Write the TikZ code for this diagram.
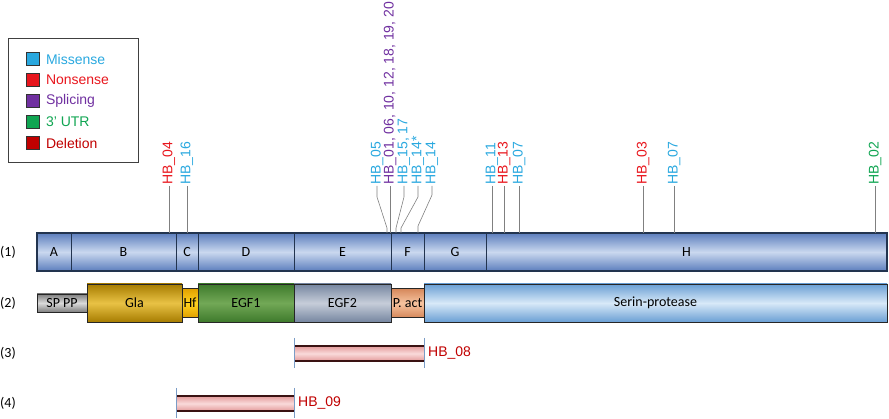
\documentclass[tikz,border=0pt]{standalone}
\usepackage{fontspec}
\setmainfont{Liberation Sans}
\newfontfamily\calibri{Carlito}
\usetikzlibrary{positioning}
\definecolor{miss}{HTML}{29A8DF}
\definecolor{nons}{HTML}{E8161D}
\definecolor{splic}{HTML}{7030A0}
\definecolor{utr}{HTML}{10A552}
\definecolor{dele}{HTML}{C00000}
\definecolor{exonedge}{HTML}{5C7EBD}
\definecolor{exonmid}{HTML}{CAD8EF}
\definecolor{exonline}{HTML}{22344F}
\definecolor{pinline}{HTML}{808080}
\definecolor{spedge}{HTML}{7F7F7F}
\definecolor{spmid}{HTML}{DADADA}
\definecolor{glaedge}{HTML}{A67C00}
\definecolor{glamid}{HTML}{E9C245}
\definecolor{hfedge}{HTML}{E0A000}
\definecolor{hfmid}{HTML}{FFD21F}
\definecolor{egfaedge}{HTML}{3E7A2C}
\definecolor{egfamid}{HTML}{72A856}
\definecolor{egfbedge}{HTML}{7686A0}
\definecolor{egfbmid}{HTML}{C6CDD9}
\definecolor{pactedge}{HTML}{D5875A}
\definecolor{pactmid}{HTML}{F7C4A0}
\definecolor{seredge}{HTML}{6A9FD4}
\definecolor{sermid}{HTML}{D8E9F8}
\definecolor{deledge}{HTML}{E39A9A}
\definecolor{delmid}{HTML}{FADADA}
\definecolor{delline}{HTML}{3A1212}
\definecolor{tickline}{HTML}{7A9CC6}

\begin{document}
\begin{tikzpicture}[x=1pt, y=-1pt,
      exon/.style={draw=exonline, line width=0.6pt, top color=exonedge, bottom color=exonedge,
                   middle color=exonmid, minimum height=38pt, inner sep=0pt, outer sep=0pt,
                   font=\calibri\fontsize{14}{14}\selectfont},
      domain/.style 2 args={draw=black!85, line width=0.6pt, top color=#1, bottom color=#1,
                   middle color=#2, minimum height=38pt, inner sep=0pt, outer sep=0pt,
                   font=\calibri\fontsize{14}{14}\selectfont},
      delbar/.style={top color=deledge, bottom color=deledge, middle color=delmid,
                   minimum height=15pt, inner sep=0pt, outer sep=0pt},
      dline/.style={draw=delline, line width=2pt},
      endtick/.style={draw=tickline, line width=0.7pt},
      mut/.style={rotate=90, anchor=west, inner sep=1pt, text=#1, font=\fontsize{14}{14}\selectfont},
      pin/.style={draw=pinline, line width=0.6pt},
      keybox/.style={draw=black!80, line width=0.6pt, fill=#1, minimum size=13pt, inner sep=0pt},
      rowlab/.style={font=\calibri\fontsize{14}{14}\selectfont, inner sep=0pt},
      mutlab/.style={text=dele, inner sep=1pt, font=\fontsize{14}{14}\selectfont}]
  \useasboundingbox (0,0) rectangle (889,419);

  % legend
  \node[draw=black!75, line width=1.2pt, minimum width=130pt, minimum height=124pt,
        anchor=north west] (legend) at (8,38) {};
  \foreach \txt/\col [count=\i] in {Missense/miss, Nonsense/nons, Splicing/splic, 3’ UTR/utr, Deletion/dele} {
    \node[keybox=\col] (k\i) at (33,38+21*\i) {};
    \node[right=6pt of k\i, inner sep=0pt, text=\col, font=\fontsize{14}{14}\selectfont] (t\i) {\txt};
  }

  % (1) exons
  \node[rowlab] (r1) at (8,252) {(1)};
  \node[exon, minimum width=34pt, anchor=west] (A) at (37,252) {A};
  \node[exon, minimum width=105pt, right=0pt of A] (B) {B};
  \node[exon, minimum width=22pt, right=0pt of B] (C) {C};
  \node[exon, minimum width=96pt, right=0pt of C] (D) {D};
  \node[exon, minimum width=97pt, right=0pt of D] (E) {E};
  \node[exon, minimum width=33pt, right=0pt of E] (F) {F};
  \node[exon, minimum width=62pt, right=0pt of F] (G) {G};
  \node[exon, minimum width=401pt, right=0pt of G] (H) {H};
  \draw[exonline, line width=1.2pt] (A.north west) rectangle (H.south east);

  % (2) protein domains
  \node[rowlab] (r2) at (8,303) {(2)};
  \node[domain={spedge}{spmid}, minimum width=50pt, minimum height=18pt, anchor=west] (sp) at (37,303) {SP PP};
  \node[domain={glaedge}{glamid}, minimum width=95pt, right=0pt of sp] (gla) {Gla};
  \node[domain={hfedge}{hfmid}, minimum width=16pt, minimum height=29pt, right=0pt of gla] (hf) {Hf};
  \node[domain={egfaedge}{egfamid}, minimum width=96pt, right=0pt of hf] (egf1) {EGF1};
  \node[domain={egfbedge}{egfbmid}, minimum width=97pt, right=0pt of egf1] (egf2) {EGF2};
  \node[domain={pactedge}{pactmid}, minimum width=33pt, minimum height=29pt, right=0pt of egf2] (pact) {P. act};
  \node[domain={seredge}{sermid}, minimum width=463pt, right=0pt of pact] (serin) {Serin-protease};

  % (3) and (4) deletions
  \node[rowlab] (r3) at (8,353) {(3)};
  \node[delbar, minimum width=130pt, anchor=west] (d08) at (294,353.5) {};
  \draw[dline] (d08.north west) -- (d08.north east);
  \draw[dline] (d08.south west) -- (d08.south east);
  \draw[endtick] ([yshift=8pt]d08.north west) -- ([yshift=-7pt]d08.south west);
  \draw[endtick] ([yshift=8pt]d08.north east) -- ([yshift=-7pt]d08.south east);
  \node[mutlab, right=3pt of d08] (h08) {HB\_08};

  \node[rowlab] (r4) at (8,403) {(4)};
  \node[delbar, minimum width=118pt, anchor=west] (d09) at (176,403.5) {};
  \draw[dline] (d09.north west) -- (d09.north east);
  \draw[dline] (d09.south west) -- (d09.south east);
  \draw[endtick] ([yshift=8pt]d09.north west) -- ([yshift=-7pt]d09.south west);
  \draw[endtick] ([yshift=8pt]d09.north east) -- ([yshift=-7pt]d09.south east);
  \node[mutlab, right=3pt of d09] (h09) {HB\_09};

  % mutations
  \node[mut=nons] (l04) at (169,186) {HB\_04};
  \node[mut=miss] (l16) at (187,186) {HB\_16};
  \node[mut=miss] (l05) at (377,186) {HB\_05};
  \node[mut=splic] (l01) at (390,186) {HB\_01, 06, 10, 12, 18, 19, 20};
  \node[mut=miss] (l15) at (404,186) {HB\_15, 17};
  \node[mut=miss] (l14s) at (418,186) {HB\_14*};
  \node[mut=miss] (l14) at (432,186) {HB\_14};
  \node[mut=miss] (l11) at (492,186) {HB\_11};
  \node[mut=nons] (l13) at (504,186) {HB\_13};
  \node[mut=miss] (l07a) at (519,186) {HB\_07};
  \node[mut=nons] (l03) at (643,186) {HB\_03};
  \node[mut=miss] (l07b) at (674,186) {HB\_07};
  \node[mut=utr] (l02) at (875,186) {HB\_02};

  \coordinate (t05) at (387,233);
  \coordinate (t15) at (396,233);
  \coordinate (t14s) at (401,233);
  \coordinate (t14) at (418,233);

  \draw[pin] (l04.west) -- (l04.west |- B.north);
  \draw[pin] (l16.west) -- (l16.west |- C.north);
  \draw[pin] (l05.west) -- ++(0,11) -- ([yshift=5pt]t05) -- (t05);
  \draw[pin] (l01.west) -- (l01.west |- E.north);
  \draw[pin] (l15.west) -- ++(0,11) -- ([yshift=5pt]t15) -- (t15);
  \draw[pin] (l14s.west) -- ++(0,11) -- ([yshift=5pt]t14s) -- (t14s);
  \draw[pin] (l14.west) -- ++(0,9) -- ([yshift=7pt]t14) -- (t14);
  \draw[pin] (l11.west) -- (l11.west |- H.north);
  \draw[pin] (l13.west) -- (l13.west |- H.north);
  \draw[pin] (l07a.west) -- (l07a.west |- H.north);
  \draw[pin] (l03.west) -- (l03.west |- H.north);
  \draw[pin] (l07b.west) -- (l07b.west |- H.north);
  \draw[pin] (l02.west) -- (l02.west |- H.north);
\end{tikzpicture}
\end{document}
